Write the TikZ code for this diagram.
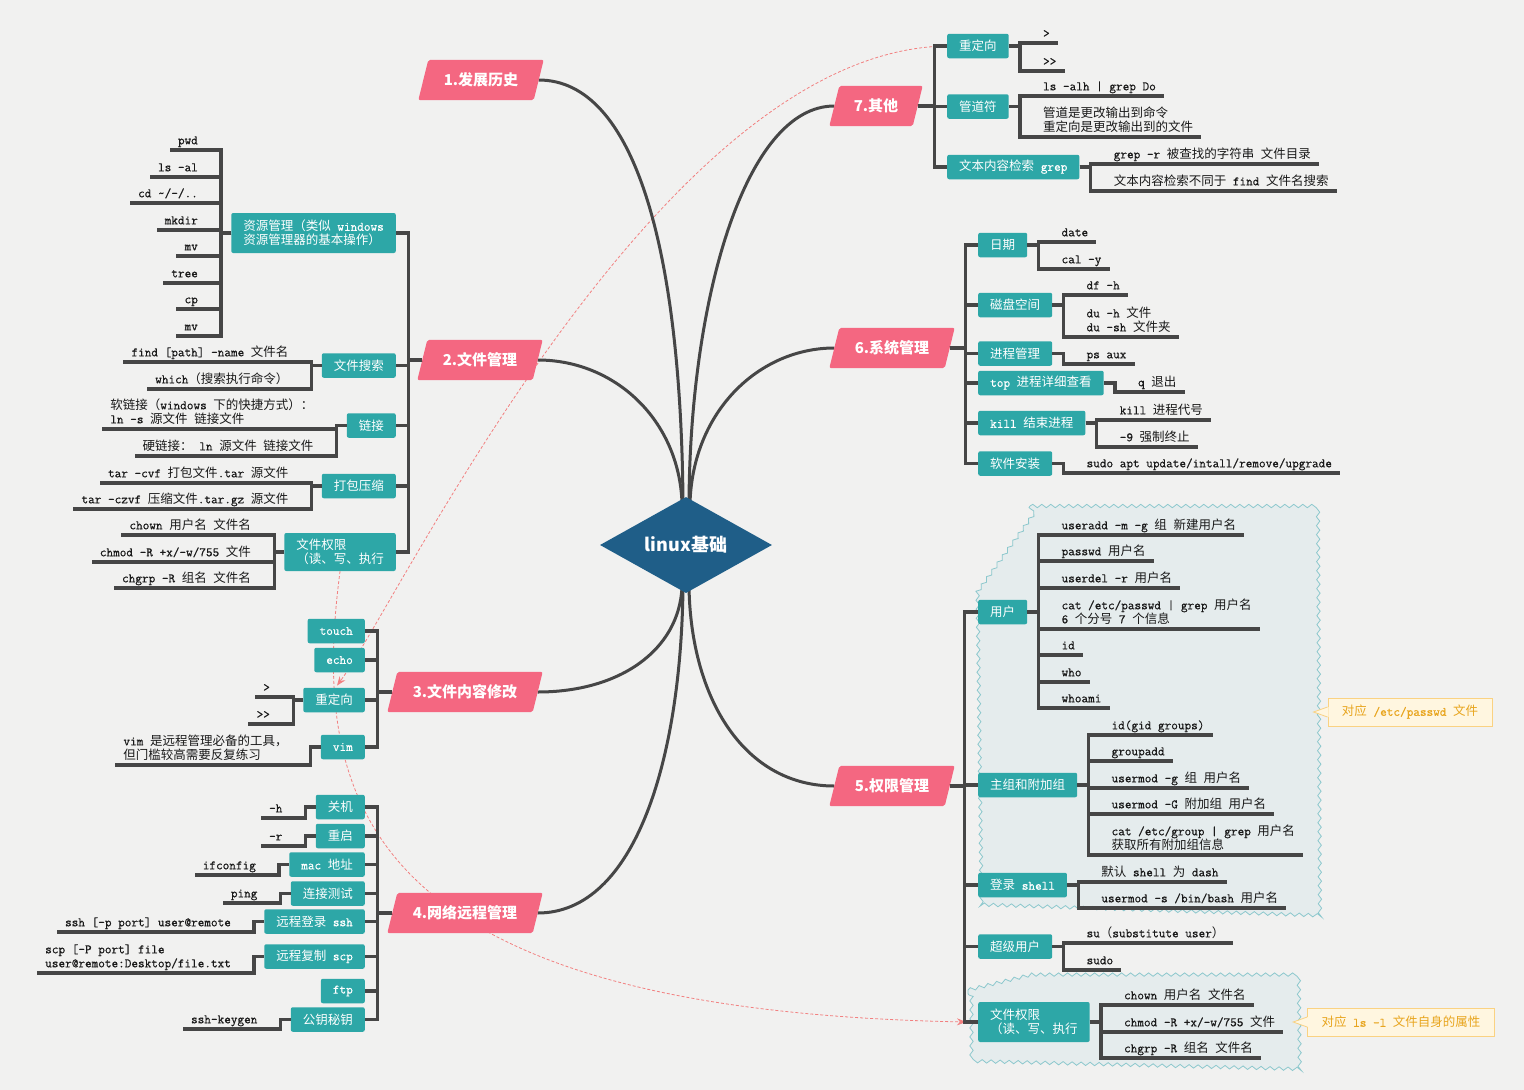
\documentclass[tikz,border=0pt]{standalone}
\usepackage{fontspec}
\setmonofont{Latin Modern Mono}[Scale=1.03, FakeBold=0.6]
\newfontfamily\hanfont{Noto Sans CJK SC}
\usetikzlibrary{shapes.geometric,decorations.pathmorphing,backgrounds,arrows.meta}

% Han characters switch to the CJK family, everything else stays typewriter
\XeTeXinterchartokenstate=1
\newXeTeXintercharclass\hanclass
\newcount\hancnt
\hancnt="2E80
\loop\ifnum\hancnt<"A000
  \XeTeXcharclass\hancnt=\hanclass
  \advance\hancnt by 1
\repeat
\hancnt="FF00
\loop\ifnum\hancnt<"FFF0
  \XeTeXcharclass\hancnt=\hanclass
  \advance\hancnt by 1
\repeat
\newcommand\latinfont{\ttfamily}
\XeTeXinterchartoks 0 \hanclass = {\hanfont}
\XeTeXinterchartoks 4095 \hanclass = {\hanfont}
\XeTeXinterchartoks \hanclass 0 = {\latinfont}
\XeTeXinterchartoks \hanclass 4095 = {\latinfont}

\definecolor{pinkc}{RGB}{244,103,129}
\definecolor{tealc}{RGB}{45,167,167}
\definecolor{navyc}{RGB}{31,94,136}
\definecolor{linec}{RGB}{70,70,70}
\definecolor{leafc}{RGB}{25,25,25}
\definecolor{paper}{RGB}{241,241,240}
\definecolor{wavefill}{RGB}{229,236,237}
\definecolor{waveline}{RGB}{140,200,205}
\definecolor{relc}{RGB}{242,128,128}
\definecolor{notefill}{RGB}{255,246,224}
\definecolor{noteline}{RGB}{250,210,130}
\definecolor{notetext}{RGB}{232,165,30}

\begin{document}
\begin{tikzpicture}[x=1pt, y=-1pt,
    conn/.style={draw=linec, line width=3.2pt},
    limb/.style={draw=linec, line width=3pt},
    root/.style={diamond, aspect=1.8, fill=navyc, minimum width=172pt, minimum height=96pt, inner sep=0pt, text=white,
      font=\let\latinfont\relax\hanfont\bfseries\fontsize{18}{20}\selectfont},
    topic/.style={minimum height=40pt, inner sep=0pt, text=white,
      font=\let\latinfont\relax\hanfont\bfseries\fontsize{15}{18}\selectfont},
    box/.style={fill=tealc, text=white, rounded corners=2pt, minimum height=24.5pt, inner xsep=12pt, inner ysep=2pt,
      align=left, font=\ttfamily\fontsize{12.5}{14}\selectfont},
    leafL/.style={anchor=south east, inner xsep=8pt, inner ysep=2.5pt, text depth=3pt, align=left, text=leafc,
      font=\ttfamily\fontsize{12.5}{14}\selectfont},
    leafR/.style={leafL, anchor=south west},
    rel/.style={draw=relc, line width=0.8pt, dash pattern=on 3pt off 2pt, -{Stealth[length=9pt,width=7pt]}},
    wave/.style={fill=wavefill, draw=waveline, line width=0.8pt, decorate, decoration={snake, amplitude=1.7pt, segment length=9pt}},
    note/.style={fill=notefill, draw=noteline, line width=0.8pt, text=notetext, inner xsep=14pt, minimum height=28pt,
      font=\ttfamily\fontsize{12.5}{14}\selectfont}
  ]
  \useasboundingbox (0,0) rectangle (1524,1090);

  % Paper and the two summary clouds
  \begin{scope}[on background layer]
    \fill[paper] (0,0) rectangle (1524,1090);
    \path[wave] (1030,506) -- (1313,506) -- (1315,916) -- (972,905) -- (968,592) -- cycle;
    \path[wave] (968,990) -- (1030,975) -- (1297,975) -- (1298,1068) -- (968,1060) -- cycle;
  \end{scope}

  % Root
  \node[root] (root) at (686,545) {linux基础};

  % Main topics
  \node[topic, minimum width=115pt] (b1) at (481,80) {1.发展历史};
  \node[topic, minimum width=115pt] (b2) at (480,360) {2.文件管理};
  \node[topic, minimum width=145pt] (b3) at (465,692) {3.文件内容修改};
  \node[topic, minimum width=145pt] (b4) at (465,913) {4.网络远程管理};
  \node[topic, minimum width=115pt] (b5) at (892,786) {5.权限管理};
  \node[topic, minimum width=115pt] (b6) at (892,348) {6.系统管理};
  \node[topic, minimum width=83pt] (b7) at (876,106) {7.其他};

  % 2. file management
  \node[box, anchor=east, minimum height=40pt] (res) at (396,233) {资源管理（类似 windows\\资源管理器的基本操作）};
  \node[box, anchor=east] (find) at (396,365.5) {文件搜索};
  \node[box, anchor=east] (link) at (396,425.5) {链接};
  \node[box, anchor=east] (pack) at (396,486) {打包压缩};
  \node[box, anchor=east, minimum height=38pt] (perm2) at (396,552) {文件权限\\（读、写、执行};
  \foreach \n in {res,find,link,pack,perm2}
    \draw[conn] (b2.west) -- ++(-14,0) |- (\n.east);
  \foreach \y/\txt [count=\i] in {150/pwd, 177/{ls -al}, 203/{cd \textasciitilde/-/..}, 230/mkdir, 256/mv, 283/tree, 309/cp, 336/mv}{
    \node[leafL] (res\i) at ([xshift=-25pt]res.west |- 0,\y) {\txt};
    \draw[conn] (res.west) -- ++(-10,0) |- (res\i.south west);
  }
  \foreach \y/\txt [count=\i] in {362/{find [path] -name 文件名}, 389/{which（搜索执行命令）}}{
    \node[leafL] (find\i) at ([xshift=-25pt]find.west |- 0,\y) {\txt};
    \draw[conn] (find.west) -- ++(-10,0) |- (find\i.south west);
  }
  \foreach \y/\txt [count=\i] in {429/{软链接（windows 下的快捷方式）：\\ln -s 源文件 链接文件}, 456/{硬链接： ln 源文件 链接文件}}{
    \node[leafL] (link\i) at ([xshift=-25pt]link.west |- 0,\y) {\txt};
    \draw[conn] (link.west) -- ++(-10,0) |- (link\i.south west);
  }
  \foreach \y/\txt [count=\i] in {483/{tar -cvf 打包文件.tar 源文件}, 509/{tar -czvf 压缩文件.tar.gz 源文件}}{
    \node[leafL] (pack\i) at ([xshift=-25pt]pack.west |- 0,\y) {\txt};
    \draw[conn] (pack.west) -- ++(-10,0) |- (pack\i.south west);
  }
  \foreach \y/\txt [count=\i] in {535/{chown 用户名 文件名}, 562/{chmod -R +x/-w/755 文件}, 588/{chgrp -R 组名 文件名}}{
    \node[leafL] (permb\i) at ([xshift=-25pt]perm2.west |- 0,\y) {\txt};
    \draw[conn] (perm2.west) -- ++(-10,0) |- (permb\i.south west);
  }

  % 3. editing file content
  \node[box, anchor=east] (touch) at (365,631) {touch};
  \node[box, anchor=east] (echo) at (365,660) {echo};
  \node[box, anchor=east] (redir3) at (365,700) {重定向};
  \node[box, anchor=east] (vim) at (365,747) {vim};
  \foreach \n in {touch,echo,redir3,vim}
    \draw[conn] (b3.west) -- ++(-14.5,0) |- (\n.east);
  \foreach \y/\txt [count=\i] in {697/{>}, 724/{>\kern0pt>}}{
    \node[leafL] (redirc\i) at ([xshift=-25pt]redir3.west |- 0,\y) {\txt};
    \draw[conn] (redir3.west) -- ++(-10,0) |- (redirc\i.south west);
  }
  \node[leafL] (vimtip) at ([xshift=-25pt]vim.west |- 0,765) {vim 是远程管理必备的工具，\\但门槛较高需要反复练习};
  \draw[conn] (vim.west) -- ++(-10,0) |- (vimtip.south west);

  % 4. network and remote management
  \node[box, anchor=east] (halt) at (365,807) {关机};
  \node[box, anchor=east] (reboot) at (365,836) {重启};
  \node[box, anchor=east] (mac) at (365,864.5) {mac 地址};
  \node[box, anchor=east] (ping) at (365,893.5) {连接测试};
  \node[box, anchor=east] (ssh) at (365,921.5) {远程登录 ssh};
  \node[box, anchor=east] (scp) at (365,956.5) {远程复制 scp};
  \node[box, anchor=east] (ftp) at (365,991) {ftp};
  \node[box, anchor=east] (keyg) at (365,1019.5) {公钥秘钥};
  \foreach \n in {halt,reboot,mac,ping,ssh,scp,ftp,keyg}
    \draw[conn] (b4.west) -- ++(-14.5,0) |- (\n.east);
  \foreach \n/\y/\txt in {halt/818/{-h}, reboot/846/{-r}, mac/875/ifconfig, ping/903/ping,
      ssh/932/{ssh [-p port] user@remote}, scp/973/{scp [-P port] file\\user@remote:Desktop/file.txt}, keyg/1029/ssh-keygen}{
    \node[leafL] (l\n) at ([xshift=-25pt]\n.west |- 0,\y) {\txt};
    \draw[conn] (\n.west) -- ++(-10,0) |- (l\n.south west);
  }

  % 7. others
  \node[box, anchor=west] (redir7) at (947,46) {重定向};
  \node[box, anchor=west] (pipe) at (947,106.5) {管道符};
  \node[box, anchor=west] (grep) at (947,167) {文本内容检索 grep};
  \foreach \n in {redir7,pipe,grep}
    \draw[conn] (b7.east) -- ++(17,0) |- (\n.west);
  \foreach \y/\txt [count=\i] in {43/{>}, 71/{>\kern0pt>}}{
    \node[leafR] (redirg\i) at ([xshift=26pt]redir7.east |- 0,\y) {\txt};
    \draw[conn] (redir7.east) -- ++(11,0) |- (redirg\i.south east);
  }
  \foreach \y/\txt [count=\i] in {96/{ls -alh | grep Do}, 137/{管道是更改输出到命令\\重定向是更改输出到的文件}}{
    \node[leafR] (pipe\i) at ([xshift=26pt]pipe.east |- 0,\y) {\txt};
    \draw[conn] (pipe.east) -- ++(11,0) |- (pipe\i.south east);
  }
  \foreach \y/\txt [count=\i] in {164/{grep -r 被查找的字符串 文件目录}, 191/{文本内容检索不同于 find 文件名搜索}}{
    \node[leafR] (grep\i) at ([xshift=26pt]grep.east |- 0,\y) {\txt};
    \draw[conn] (grep.east) -- ++(11,0) |- (grep\i.south east);
  }

  % 6. system management
  \node[box, anchor=west] (date) at (978,245) {日期};
  \node[box, anchor=west] (disk) at (978,305) {磁盘空间};
  \node[box, anchor=west] (proc) at (978,353.5) {进程管理};
  \node[box, anchor=west] (topv) at (978,383) {top 进程详细查看};
  \node[box, anchor=west] (kill) at (978,423) {kill 结束进程};
  \node[box, anchor=west] (soft) at (978,463.5) {软件安装};
  \foreach \n in {date,disk,proc,topv,kill,soft}
    \draw[conn] (b6.east) -- ++(15.5,0) |- (\n.west);
  \foreach \y/\txt [count=\i] in {242/date, 269/{cal -y}}{
    \node[leafR] (date\i) at ([xshift=26pt]date.east |- 0,\y) {\txt};
    \draw[conn] (date.east) -- ++(11,0) |- (date\i.south east);
  }
  \foreach \y/\txt [count=\i] in {295/{df -h}, 337/{du -h 文件\\du -sh 文件夹}}{
    \node[leafR] (disk\i) at ([xshift=26pt]disk.east |- 0,\y) {\txt};
    \draw[conn] (disk.east) -- ++(11,0) |- (disk\i.south east);
  }
  \foreach \y/\txt [count=\i] in {420/{kill 进程代号}, 447/{-9 强制终止}}{
    \node[leafR] (kill\i) at ([xshift=26pt]kill.east |- 0,\y) {\txt};
    \draw[conn] (kill.east) -- ++(11,0) |- (kill\i.south east);
  }
  \foreach \n/\y/\txt in {proc/364/{ps aux}, topv/392/{q 退出}, soft/473/{sudo apt update/intall/remove/upgrade}}{
    \node[leafR] (l\n) at ([xshift=26pt]\n.east |- 0,\y) {\txt};
    \draw[conn] (\n.east) -- ++(11,0) |- (l\n.south east);
  }

  % 5. permissions
  \node[box, anchor=west] (user) at (978,612) {用户};
  \node[box, anchor=west] (grp) at (978,785) {主组和附加组};
  \node[box, anchor=west] (shell) at (978,885) {登录 shell};
  \node[box, anchor=west] (su) at (978,946.5) {超级用户};
  \node[box, anchor=west, minimum height=40pt] (perm5) at (978,1022) {文件权限\\（读、写、执行};
  \foreach \n in {user,grp,shell,su,perm5}
    \draw[conn] (b5.east) -- ++(14.5,0) |- (\n.west);
  \foreach \y/\txt [count=\i] in {535/{useradd -m -g 组 新建用户名}, 561/{passwd 用户名}, 588/{userdel -r 用户名},
      629/{cat /etc/passwd | grep 用户名\\6 个分号 7 个信息}, 655/id, 682/who, 708/whoami}{
    \node[leafR] (user\i) at ([xshift=26pt]user.east |- 0,\y) {\txt};
    \draw[conn] (user.east) -- ++(11,0) |- (user\i.south east);
  }
  \foreach \y/\txt [count=\i] in {735/{id(gid groups)}, 761/groupadd, 788/{usermod -g 组 用户名}, 814/{usermod -G 附加组 用户名},
      855/{cat /etc/group | grep 用户名\\获取所有附加组信息}}{
    \node[leafR] (grp\i) at ([xshift=26pt]grp.east |- 0,\y) {\txt};
    \draw[conn] (grp.east) -- ++(11,0) |- (grp\i.south east);
  }
  \foreach \y/\txt [count=\i] in {882/{默认 shell 为 dash}, 908/{usermod -s /bin/bash 用户名}}{
    \node[leafR] (shell\i) at ([xshift=26pt]shell.east |- 0,\y) {\txt};
    \draw[conn] (shell.east) -- ++(11,0) |- (shell\i.south east);
  }
  \foreach \y/\txt [count=\i] in {943/{su（substitute user）}, 970/sudo}{
    \node[leafR] (su\i) at ([xshift=26pt]su.east |- 0,\y) {\txt};
    \draw[conn] (su.east) -- ++(11,0) |- (su\i.south east);
  }
  \foreach \y/\txt [count=\i] in {1005/{chown 用户名 文件名}, 1032/{chmod -R +x/-w/755 文件}, 1058/{chgrp -R 组名 文件名}}{
    \node[leafR] (perme\i) at ([xshift=26pt]perm5.east |- 0,\y) {\txt};
    \draw[conn] (perm5.east) -- ++(11,0) |- (perme\i.south east);
  }

  % Notes
  \node[note] (n1) at (1410,712) {对应 /etc/passwd 文件};
  \node[note] (n2) at (1401,1022) {对应 ls -l 文件自身的属性};
  \foreach \n in {n1,n2}{
    \fill[notefill] ([xshift=1pt,yshift=5pt]\n.west) -- ++(-14pt,-5pt) -- ([xshift=1pt,yshift=-5pt]\n.west) -- cycle;
    \draw[noteline, line width=0.8pt] ([yshift=5pt]\n.west) -- ++(-14pt,-5pt) -- ([yshift=-5pt]\n.west);
  }

  % Curves to the root, topic plates and the two relations (behind)
  \begin{scope}[on background layer]
    \draw[rel] (redir7.west) .. controls (660,50) and (400,600) .. ([xshift=3pt,yshift=2pt]redir3.north);
    \draw[rel] (perm2.south) .. controls (310,800) and (360,1010) .. ([xshift=-12pt]perm5.west);
    \draw[limb] (b1.east) .. controls (635,80) and (681,250) .. ([xshift=-3pt,yshift=-6pt]root.north);
    \draw[limb] (b2.east) .. controls (615,360) and (679,420) .. ([xshift=-4pt,yshift=-6pt]root.north);
    \draw[limb] (b7.west) .. controls (745,106) and (690,300) .. ([xshift=3pt,yshift=-6pt]root.north);
    \draw[limb] (b6.west) .. controls (760,348) and (693,410) .. ([xshift=4pt,yshift=-6pt]root.north);
    \draw[limb] (b3.east) .. controls (620,692) and (679,650) .. ([xshift=-4pt,yshift=6pt]root.south);
    \draw[limb] (b4.east) .. controls (635,913) and (681,760) .. ([xshift=-3pt,yshift=6pt]root.south);
    \draw[limb] (b5.west) .. controls (745,786) and (691,700) .. ([xshift=3pt,yshift=6pt]root.south);
    \foreach \b in {b1,b2,b3,b4,b5,b6,b7}
      \fill[pinkc, rounded corners=2pt] ([xshift=-5pt]\b.south west) -- ([xshift=-5pt]\b.south east)
        -- ([xshift=5pt]\b.north east) -- ([xshift=5pt]\b.north west) -- cycle;
  \end{scope}
\end{tikzpicture}
\end{document}
